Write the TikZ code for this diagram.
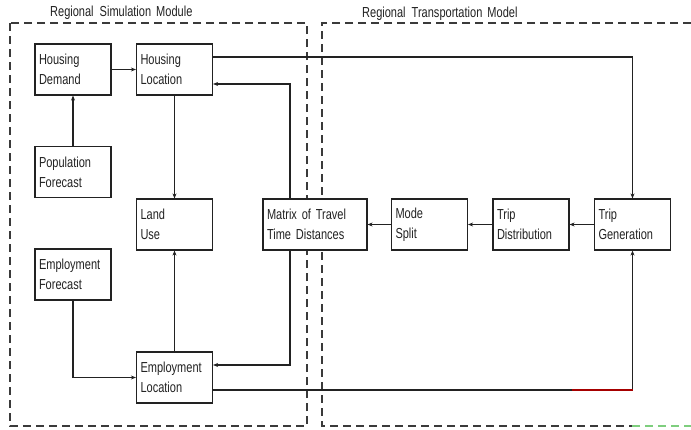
\documentclass[tikz,border=0pt]{standalone}
\usepackage{fontspec}
\newfontfamily\diagfont[FakeStretch=0.76]{Liberation Sans}
\usetikzlibrary{arrows.meta}
\definecolor{ink}{HTML}{222222}
\definecolor{dashink}{HTML}{3A3A3A}
\begin{document}
\begin{tikzpicture}[x=1pt,y=-1pt,
  every node/.style={font=\diagfont\fontsize{14.5}{20}\selectfont, text=ink},
  blk/.style={draw=ink, fill=white, line width=1.2pt, minimum height=51pt, minimum width=76pt,
     text width=68pt, inner xsep=4pt, inner ysep=0pt, align=left},
  wideblk/.style={blk, minimum width=104pt, text width=96pt},
  conn/.style={draw=ink, line width=1.2pt, -{Stealth[length=5pt,width=4pt]}},
  region/.style={draw=dashink, line width=1.4pt, dash pattern=on 8pt off 5pt},
  title/.style={anchor=west, inner sep=0pt}]
\useasboundingbox (0,0) rectangle (691,429);
\fill[white] (0,0) rectangle (691,429);

% region frames
\draw[region] (10,23) rectangle (307,426);
\draw[region] (691,23) -- (322,23) -- (322,426) -- (632,426);
\draw[region, draw=green!45!gray!70] (632,426) -- (691,426);

\node[title] (t1) at (50,13) {Regional\hspace{3pt} Simulation\hspace{2pt} Module};
\node[title] (t2) at (362,14) {Regional\hspace{3pt} Transportation\hspace{2pt} Model};

% blocks
\node[blk] (HD) at (73,69.5) {Housing\\Demand};
\node[blk] (HL) at (174.5,69.5) {Housing\\Location};
\node[blk] (PF) at (73,172) {Population\\Forecast};
\node[blk] (LU) at (174.5,224.5) {Land\\Use};
\node[wideblk] (MT) at (315,224.5) {Matrix of Travel\\Time Distances};
\node[blk] (MS) at (429.5,224.5) {Mode\\Split};
\node[blk] (TD) at (531,224.5) {Trip\\Distribution};
\node[blk] (TG) at (632.5,224.5) {Trip\\Generation};
\node[blk] (EF) at (73,274.5) {Employment\\Forecast};
\node[blk] (EL) at (174.5,377.5) {Employment\\Location};

% connectors
\draw[conn] (HD) -- (HL);
\draw[conn] (PF) -- (HD);
\draw[conn] (HL) -- (LU);
\draw[conn] (EL) -- (LU);
\draw[conn] (EF.south) |- (EL.west);
\draw[conn] ([xshift=-25pt]MT.north) |- ([yshift=-14.5pt]HL.east);
\draw[conn] ([xshift=-25pt]MT.south) |- ([yshift=12.5pt]EL.east);
\draw[conn] ([yshift=12.5pt]HL.east) -| (TG.north);
\draw[conn] ([yshift=-12.5pt]EL.east) -| (TG.south);
\coordinate (redA) at (572,390);
\coordinate (redB) at (632.5,390);
\draw[line width=1.2pt, draw=red!65!black] (redA) -- (redB);
\draw[conn] (TG) -- (TD);
\draw[conn] (TD) -- (MS);
\draw[conn] (MS) -- (MT);
\end{tikzpicture}
\end{document}
